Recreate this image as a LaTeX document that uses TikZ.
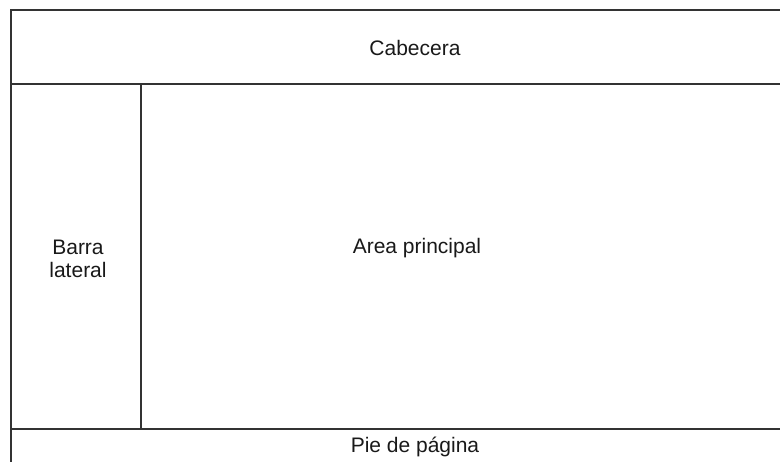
\documentclass[tikz,border=0pt]{standalone}
\usepackage{fontspec}
\setmainfont{Liberation Sans}

\begin{document}
\begin{tikzpicture}[x=1pt,y=-1pt,
   zone/.style={draw=black!80,line width=1.3pt},
   zonetext/.style={font=\fontsize{21}{23}\selectfont,align=center,inner sep=0pt,text=black!90}]
\useasboundingbox (0,0) rectangle (780,462);
\begin{scope}
\clip (0,0) rectangle (780,462);
\draw[zone] (11,10) rectangle (815,84);
\draw[zone] (11,84) rectangle (141,429);
\draw[zone] (141,84) rectangle (815,429);
\draw[zone] (11,429) rectangle (815,480);
\end{scope}
\node[zonetext,anchor=base] (header) at (415,56) {Cabecera};
\node[zonetext,anchor=base] (mainarea) at (417,254) {Area principal};
\node[zonetext] (sidebar) at (78,259) {Barra\\lateral};
\node[zonetext,anchor=base] (footer) at (415,453) {Pie de página};
\end{tikzpicture}
\end{document}
